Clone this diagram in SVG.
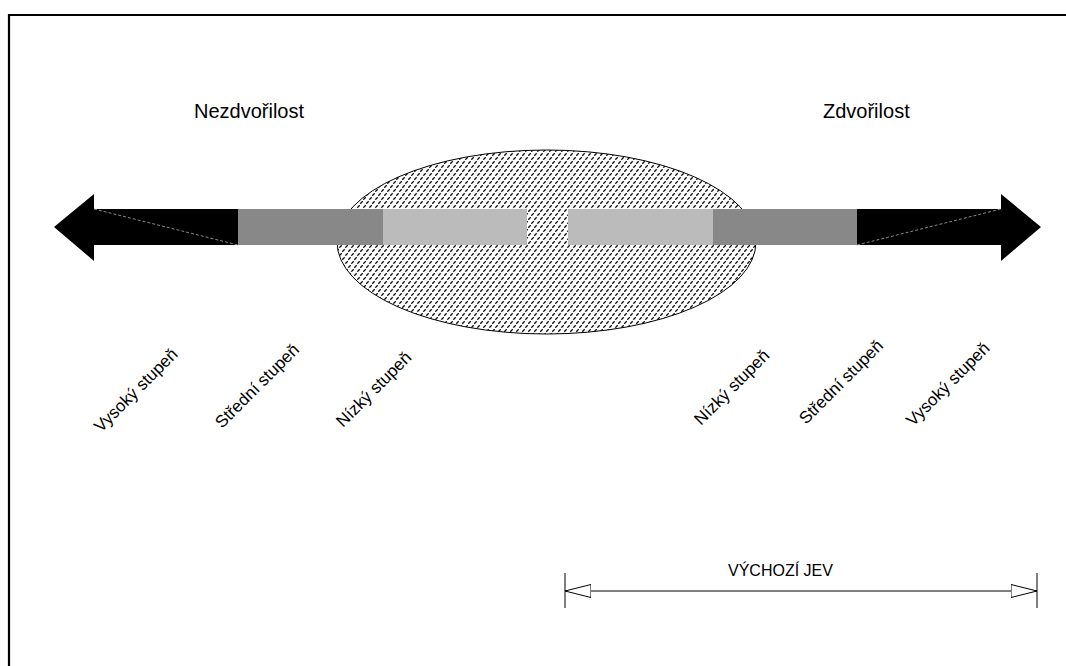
<svg xmlns="http://www.w3.org/2000/svg" width="1066" height="666" viewBox="0 0 1066 666">
  <style>
    .title { font-family: "Liberation Sans", Arial, sans-serif; font-size: 20px; fill: #000; }
    .deg { font-family: "Liberation Sans", Arial, sans-serif; font-size: 17px; fill: #000; }
    .dim { font-family: "Liberation Sans", Arial, sans-serif; font-size: 16px; fill: #000; }
    .black { fill: #000; }
    .mid { fill: #888; }
    .light { fill: #bbb; }
    .seam { stroke: #888; stroke-width: 1; stroke-dasharray: 3 2; fill: none; }
    .dimline { stroke: #000; stroke-width: 1; fill: none; }
  </style>
  <defs>
    <pattern id="hatch" width="6" height="8" patternUnits="userSpaceOnUse">
      <rect width="6" height="8" fill="#fff"/>
      <path d="M0.3 3.7 L2.7 1.3 M3.3 7.7 L5.7 5.3" stroke="#111" stroke-width="1.3"/>
    </pattern>
    <marker id="open-head" viewBox="0 0 26 14" refX="26" refY="7" markerWidth="26" markerHeight="14" markerUnits="userSpaceOnUse" orient="auto-start-reverse">
      <path d="M0 0.5 L26 7 L0 13.5 Z" fill="#fff" stroke="#000" stroke-width="1"/>
    </marker>
  </defs>

  <!-- page frame -->
  <path d="M9 666 V15 H1066" fill="none" stroke="#000" stroke-width="2.2"/>

  <!-- central zone -->
  <g id="zone">
    <ellipse cx="546.5" cy="242" rx="209.5" ry="92" fill="url(#hatch)" stroke="#000" stroke-width="1"/>
  </g>

  <!-- impoliteness scale (left) -->
  <g id="impolite-high">
    <polygon class="black" points="54,227 94,194 94,209 238,209 238,245 94,245 94,261"/>
    <line class="seam" x1="94" y1="209" x2="238" y2="245"/>
  </g>
  <g id="impolite-mid">
    <rect class="mid" x="238" y="209" width="145" height="36"/>
  </g>
  <g id="impolite-low">
    <rect class="light" x="383" y="209" width="144" height="36"/>
  </g>

  <!-- politeness scale (right) -->
  <g id="polite-low">
    <rect class="light" x="568" y="209" width="145" height="36"/>
  </g>
  <g id="polite-mid">
    <rect class="mid" x="713" y="209" width="144" height="36"/>
  </g>
  <g id="polite-high">
    <polygon class="black" points="1041,227 1001,194 1001,209 857,209 857,245 1001,245 1001,261"/>
    <line class="seam" x1="857" y1="245" x2="1001" y2="209"/>
  </g>

  <!-- headings -->
  <g id="heading-left">
    <text class="title" x="194" y="118">Nezdvořilost</text>
  </g>
  <g id="heading-right">
    <text class="title" x="823" y="118">Zdvořilost</text>
  </g>

  <!-- degree labels -->
  <g id="labels-left">
    <text class="deg" transform="translate(101,433) rotate(-45)">Vysoký stupeň</text>
    <text class="deg" transform="translate(222,429) rotate(-45)">Střední stupeň</text>
    <text class="deg" transform="translate(343,428) rotate(-45)">Nízký stupeň</text>
  </g>
  <g id="labels-right">
    <text class="deg" transform="translate(701,426) rotate(-45)">Nízký stupeň</text>
    <text class="deg" transform="translate(806,425) rotate(-45)">Střední stupeň</text>
    <text class="deg" transform="translate(913,427) rotate(-45)">Vysoký stupeň</text>
  </g>

  <!-- dimension: starting phenomenon -->
  <g id="connectors">
    <line class="dimline" x1="565" y1="573" x2="565" y2="608"/>
    <line class="dimline" x1="1037" y1="573" x2="1037" y2="608"/>
    <line class="dimline" x1="565" y1="591" x2="1037" y2="591" marker-start="url(#open-head)" marker-end="url(#open-head)"/>
  </g>
  <g id="dimension-label">
    <text class="dim" x="728" y="576">VÝCHOZÍ JEV</text>
  </g>
</svg>
